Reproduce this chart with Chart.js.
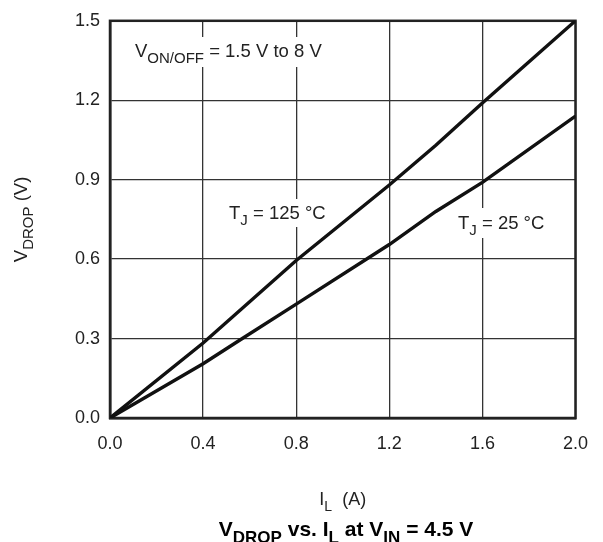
<!DOCTYPE html>
<html>
<head>
<meta charset="utf-8">
<script src="https://cdn.jsdelivr.net/npm/chart.js@4.4.1/dist/chart.umd.min.js"></script>
<style>
  html, body { margin: 0; padding: 0; background: #fff; }
  #wrap { width: 603px; height: 542px; }
</style>
</head>
<body>
<div id="wrap"><canvas id="dropChart" width="603" height="542"></canvas></div>
<script>
// values
const currentHot = [0, 0.4, 0.8, 1.2, 1.4, 1.6, 2.0];
const vdropHot = [0, 0.283, 0.595, 0.88, 1.03, 1.19, 1.5];
const currentRoom = [0, 0.4, 0.55, 0.8, 1.2, 1.4, 1.6, 2.0];
const vdropRoom = [0, 0.205, 0.29, 0.43, 0.655, 0.78, 0.89, 1.14];
const xTicks = [0, 0.4, 0.8, 1.2, 1.6, 2.0];
const yTicks = [0, 0.3, 0.6, 0.9, 1.2, 1.5];

const FONT = '"Liberation Sans", Arial, sans-serif';
const textColor = '#222';

function toPoints(xs, ys) {
  return xs.map((x, i) => ({ x: x, y: ys[i] }));
}

// draw a run of text pieces, some of them subscripts
// align: 'left' or 'center'
function richText(ctx, parts, x, y, size, bold, align) {
  const w = bold ? 'bold ' : '';
  const subSize = Math.round(size * 0.8);
  let total = 0;
  parts.forEach(p => {
    ctx.font = w + (p.sub ? subSize : size) + 'px ' + FONT;
    p.w = ctx.measureText(p.t).width;
    total += p.w;
  });
  let cx = align === 'center' ? x - total / 2 : x;
  ctx.textBaseline = 'alphabetic';
  ctx.textAlign = 'left';
  parts.forEach(p => {
    ctx.font = w + (p.sub ? subSize : size) + 'px ' + FONT;
    ctx.fillText(p.t, cx, p.sub ? y + size * 0.32 : y);
    cx += p.w;
  });
  return total;
}

const labelsPlugin = {
  id: 'labels',
  beforeDatasetsDraw(chart) {
    const ctx = chart.ctx;
    const a = chart.chartArea;
    ctx.save();
    // white boxes behind the notes cut the grid
    ctx.fillStyle = '#fff';
    ctx.fillRect(130, 37, 198, 30);
    ctx.fillRect(225, 199, 106, 28);
    ctx.fillRect(454, 208, 94, 30);
    // frame
    ctx.strokeStyle = '#222';
    ctx.lineWidth = 2.5;
    ctx.strokeRect(a.left, a.top, a.right - a.left, a.bottom - a.top);

    ctx.fillStyle = textColor;
    richText(ctx, [{ t: 'V' }, { t: 'ON/OFF', sub: true }, { t: ' = 1.5 V to 8 V' }], 135, 57, 18.5, false, 'left');
    richText(ctx, [{ t: 'T' }, { t: 'J', sub: true }, { t: ' = 125 °C' }], 229, 219, 18.5, false, 'left');
    richText(ctx, [{ t: 'T' }, { t: 'J', sub: true }, { t: ' = 25 °C' }], 458, 229, 18.5, false, 'left');
    ctx.restore();
  },
  afterDraw(chart) {
    const ctx = chart.ctx;
    const a = chart.chartArea;
    ctx.save();
    ctx.fillStyle = textColor;
    // x axis title
    richText(ctx, [{ t: 'I' }, { t: 'L', sub: true }, { t: '  (A)' }], (a.left + a.right) / 2, 505, 18, false, 'center');
    // chart caption
    ctx.fillStyle = '#000';
    richText(ctx, [{ t: 'V' }, { t: 'DROP', sub: true }, { t: ' vs. I' }, { t: 'L', sub: true }, { t: ' at V' }, { t: 'IN', sub: true }, { t: ' = 4.5 V' }], 346, 536, 21, true, 'center');
    // y axis title, rotated
    ctx.fillStyle = textColor;
    ctx.translate(27, (a.top + a.bottom) / 2);
    ctx.rotate(-Math.PI / 2);
    richText(ctx, [{ t: 'V' }, { t: 'DROP', sub: true }, { t: ' (V)' }], 0, 0, 18.5, false, 'center');
    ctx.restore();
  }
};

const lineStyle = {
  borderColor: '#111',
  borderWidth: 3.4,
  pointRadius: 0,
  fill: false,
  tension: 0
};

let dropChart = new Chart(document.getElementById('dropChart'), {
  type: 'line',
  data: {
    datasets: [
      Object.assign({ label: 'TJ = 125 °C', data: toPoints(currentHot, vdropHot) }, lineStyle),
      Object.assign({ label: 'TJ = 25 °C', data: toPoints(currentRoom, vdropRoom) }, lineStyle)
    ]
  },
  options: {
    responsive: false,
    animation: false,
    layout: { padding: { left: 0, right: 27, top: 14, bottom: 0 } },
    plugins: {
      legend: { display: false },
      tooltip: { enabled: false }
    },
    scales: {
      x: {
        type: 'linear',
        min: 0,
        max: 2,
        afterBuildTicks: s => { s.ticks = xTicks.map(v => ({ value: v })); },
        afterFit: s => { s.height = 124; },
        ticks: {
          color: textColor,
          font: { family: FONT, size: 18 },
          padding: 15,
          maxRotation: 0,
          callback: v => v.toFixed(1)
        },
        grid: { color: '#333', lineWidth: 1.3, drawTicks: false },
        border: { color: '#222', width: 2.5 }
      },
      y: {
        type: 'linear',
        min: 0,
        max: 1.5,
        afterBuildTicks: s => { s.ticks = yTicks.map(v => ({ value: v })); },
        afterFit: s => { s.width = 110; },
        ticks: {
          color: textColor,
          font: { family: FONT, size: 18 },
          padding: 10,
          callback: v => v.toFixed(1)
        },
        grid: { color: '#333', lineWidth: 1.3, drawTicks: false },
        border: { color: '#222', width: 2.5 }
      }
    }
  },
  plugins: [labelsPlugin]
});
</script>
</body>
</html>
